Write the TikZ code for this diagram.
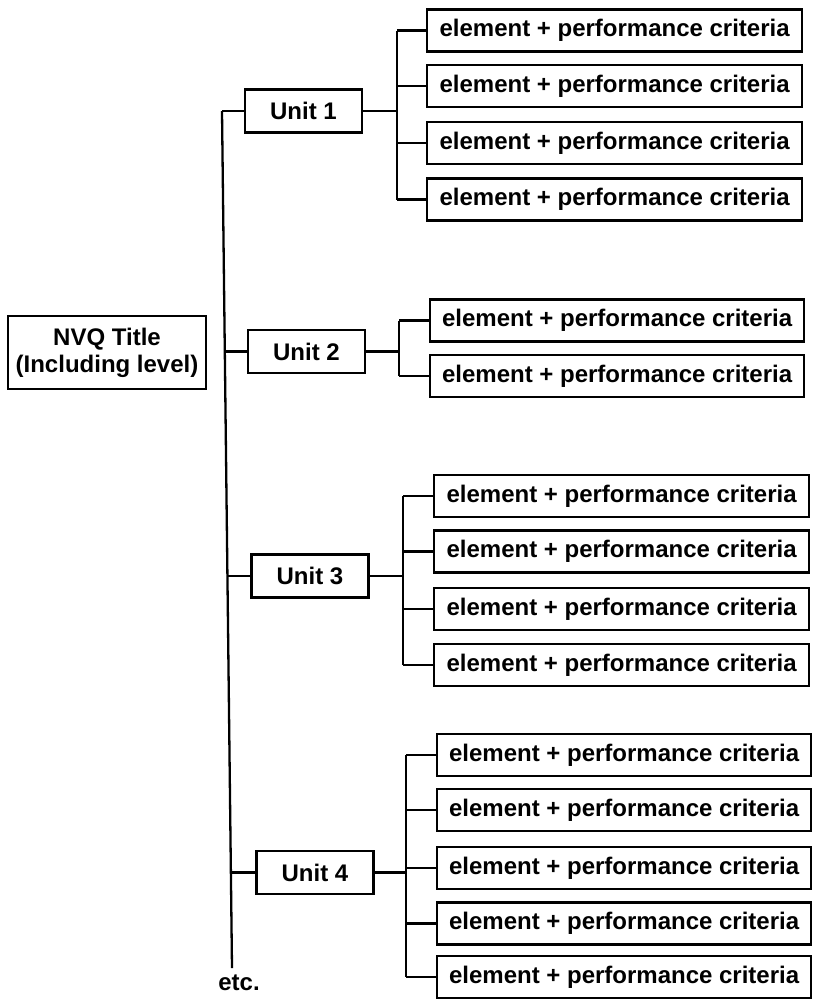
\documentclass[tikz,border=0pt]{standalone}
\usepackage{fontspec}
\setmainfont{Liberation Sans}
\usetikzlibrary{calc}

\begin{document}
\begin{tikzpicture}[x=1pt,y=-1pt,
  line width=2.3pt,
  txt/.style={font=\fontsize{24}{27}\selectfont\bfseries},
  titlebox/.style={draw, txt, align=center, minimum width=198pt, minimum height=73pt, inner sep=0pt},
  unitbox/.style={draw, txt, minimum width=117pt, minimum height=43pt, inner sep=0pt},
  elembox/.style={draw, txt, anchor=west, minimum width=375pt, minimum height=42pt, inner sep=0pt},
  link/.style={line width=2.3pt}
]
\useasboundingbox (0,0) rectangle (815,999);

% qualification title
\node[titlebox] (title) at (107,352.5) {NVQ Title\\(Including level)};

% main trunk
\coordinate (trunktop) at (222,111);
\coordinate (trunkbot) at (232,968);
\draw[link] (trunktop) -- (trunkbot);
\node[txt, anchor=north] (etc) at (239,970) {etc.};

% units
\node[unitbox] (u1) at (303.5,111) {Unit 1};
\node[unitbox] (u2) at (306.5,351.5) {Unit 2};
\node[unitbox] (u3) at (310,576) {Unit 3};
\node[unitbox] (u4) at (315,872.5) {Unit 4};

\foreach \u in {1,2,3,4}{
  \coordinate (p\u) at ($(trunktop)!(u\u.west)!(trunkbot)$);
  \draw[link] (p\u |- u\u.west) -- (u\u.west);
}

% elements of unit 1
\node[elembox] (e11) at (426,30.5)  {element + performance criteria};
\node[elembox] (e12) at (426,86)    {element + performance criteria};
\node[elembox] (e13) at (426,143)   {element + performance criteria};
\node[elembox] (e14) at (426,199.5) {element + performance criteria};
\coordinate (b1) at (397,111);

% elements of unit 2
\node[elembox, minimum width=374pt] (e21) at (429,320.5) {element + performance criteria};
\node[elembox, minimum width=374pt] (e22) at (429,376)   {element + performance criteria};
\coordinate (b2) at (399,351.5);

% elements of unit 3
\node[elembox] (e31) at (433,496)   {element + performance criteria};
\node[elembox] (e32) at (433,551.5) {element + performance criteria};
\node[elembox] (e33) at (433,609)   {element + performance criteria};
\node[elembox] (e34) at (433,665)   {element + performance criteria};
\coordinate (b3) at (403,576);

% elements of unit 4
\node[elembox, minimum width=374pt] (e41) at (436,755)   {element + performance criteria};
\node[elembox, minimum width=374pt] (e42) at (436,810)   {element + performance criteria};
\node[elembox, minimum width=374pt] (e43) at (436,868)   {element + performance criteria};
\node[elembox, minimum width=374pt] (e44) at (436,923.5) {element + performance criteria};
\node[elembox, minimum width=374pt] (e45) at (436,977)   {element + performance criteria};
\coordinate (b4) at (406,872.5);

% branches from each unit to its elements
\draw[link] (u1.east) -- (b1);
\draw[link] (b1 |- e11.west) -- (b1 |- e14.west);
\foreach \e in {e11,e12,e13,e14} \draw[link] (b1 |- \e.west) -- (\e.west);

\draw[link] (u2.east) -- (b2);
\draw[link] (b2 |- e21.west) -- (b2 |- e22.west);
\foreach \e in {e21,e22} \draw[link] (b2 |- \e.west) -- (\e.west);

\draw[link] (u3.east) -- (b3);
\draw[link] (b3 |- e31.west) -- (b3 |- e34.west);
\foreach \e in {e31,e32,e33,e34} \draw[link] (b3 |- \e.west) -- (\e.west);

\draw[link] (u4.east) -- (b4);
\draw[link] (b4 |- e41.west) -- (b4 |- e45.west);
\foreach \e in {e41,e42,e43,e44,e45} \draw[link] (b4 |- \e.west) -- (\e.west);
\end{tikzpicture}
\end{document}
